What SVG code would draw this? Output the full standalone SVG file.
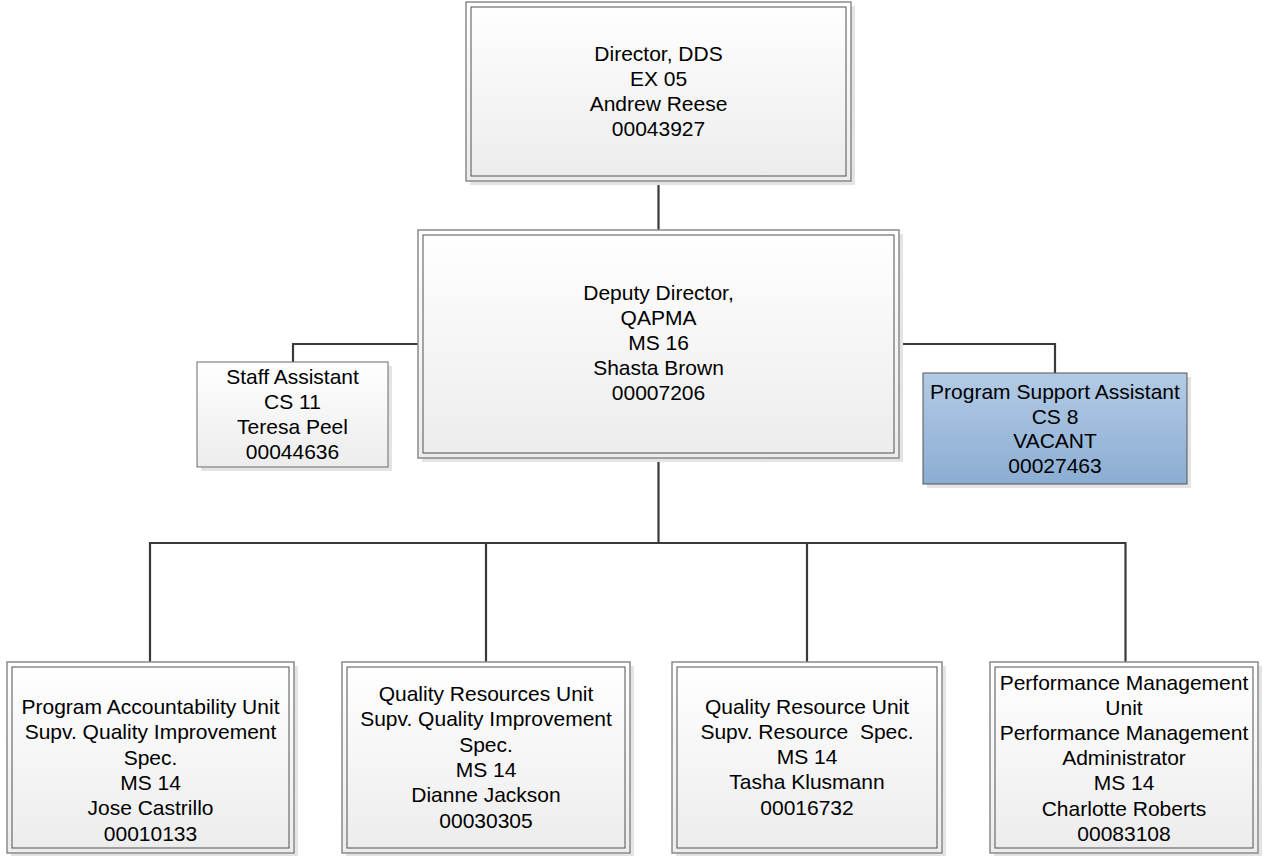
<svg xmlns="http://www.w3.org/2000/svg" width="1263" height="856" viewBox="0 0 1263 856">
<defs>
<linearGradient id="gw" x1="0" y1="0" x2="0" y2="1">
<stop offset="0" stop-color="#ffffff"/>
<stop offset="1" stop-color="#ececec"/>
</linearGradient>
<linearGradient id="gb" x1="0" y1="0" x2="0" y2="1">
<stop offset="0" stop-color="#b3cbe5"/>
<stop offset="1" stop-color="#8badd3"/>
</linearGradient>
</defs>
<style>
.sh{fill:#e4e4e4}
.o{fill:url(#gw);stroke:#8a8a8a;stroke-width:1.5}
.i{fill:none;stroke:#505050;stroke-width:1}
.s{fill:url(#gw);stroke:#6a6a6a;stroke-width:1}
.b{fill:url(#gb);stroke:#555;stroke-width:1}
text{font-family:"Liberation Sans",Arial,sans-serif;font-size:21px;fill:#000;text-anchor:middle}
.pre{white-space:pre}
.c{fill:none;stroke:#3a3a3a;stroke-width:2.2}
</style>
<rect width="1263" height="856" fill="#fff"/>
<g id="connectors">
<path class="c" d="M658.5 181V230"/>
<path class="c" d="M418 344H293V362"/>
<path class="c" d="M899 344H1055V373"/>
<path class="c" d="M658.5 458V543"/>
<path class="c" d="M150 543H1125.5"/>
<path class="c" d="M150 542V662M486 542V662M807 542V662M1125.5 542V662"/>
</g>
<g id="director">
<rect class="sh" x="470" y="6" width="385" height="179"/>
<rect class="o" x="466" y="2" width="385" height="179"/>
<rect class="i" x="471" y="7" width="375" height="169"/>
<text x="658.5" y="60.5">Director, DDS</text>
<text x="658.5" y="85.5">EX 05</text>
<text x="658.5" y="110.5">Andrew Reese</text>
<text x="658.5" y="135.5">00043927</text>
</g>
<g id="deputy">
<rect class="sh" x="422" y="234" width="481" height="228"/>
<rect class="o" x="418" y="230" width="481" height="228"/>
<rect class="i" x="423" y="235" width="471" height="218"/>
<text x="658.5" y="299.5">Deputy Director,</text>
<text x="658.5" y="324.7">QAPMA</text>
<text x="658.5" y="349.9">MS 16</text>
<text x="658.5" y="375.1">Shasta Brown</text>
<text x="658.5" y="400.3">00007206</text>
</g>
<g id="staff">
<rect class="sh" x="201" y="366" width="191" height="105"/>
<rect class="s" x="197" y="362" width="191" height="105"/>
<text x="292.5" y="384">Staff Assistant</text>
<text x="292.5" y="409">CS 11</text>
<text x="292.5" y="434">Teresa Peel</text>
<text x="292.5" y="459">00044636</text>
</g>
<g id="psa">
<rect class="sh" x="927" y="377" width="264" height="111"/>
<rect class="b" x="923" y="373" width="264" height="111"/>
<text x="1055" y="399">Program Support Assistant</text>
<text x="1055" y="423.5">CS 8</text>
<text x="1055" y="448">VACANT</text>
<text x="1055" y="472.5">00027463</text>
</g>
<g id="pau">
<rect class="sh" x="11" y="666" width="287" height="191"/>
<rect class="o" x="7" y="662" width="287" height="191"/>
<rect class="i" x="12" y="667" width="277" height="181"/>
<text x="150.5" y="714">Program Accountability Unit</text>
<text x="150.5" y="739.3">Supv. Quality Improvement</text>
<text x="150.5" y="764.6">Spec.</text>
<text x="150.5" y="789.9">MS 14</text>
<text x="150.5" y="815.2">Jose Castrillo</text>
<text x="150.5" y="840.5">00010133</text>
</g>
<g id="qrus">
<rect class="sh" x="346" y="666" width="288" height="191"/>
<rect class="o" x="342" y="662" width="288" height="191"/>
<rect class="i" x="347" y="667" width="278" height="181"/>
<text x="486" y="701">Quality Resources Unit</text>
<text x="486" y="726.3">Supv. Quality Improvement</text>
<text x="486" y="751.6">Spec.</text>
<text x="486" y="776.9">MS 14</text>
<text x="486" y="802.2">Dianne Jackson</text>
<text x="486" y="827.5">00030305</text>
</g>
<g id="qru">
<rect class="sh" x="676" y="666" width="270" height="191"/>
<rect class="o" x="672" y="662" width="270" height="191"/>
<rect class="i" x="677" y="667" width="260" height="181"/>
<text x="807" y="713.5">Quality Resource Unit</text>
<text class="pre" x="807" y="738.8" xml:space="preserve">Supv. Resource  Spec.</text>
<text x="807" y="764.1">MS 14</text>
<text x="807" y="789.4">Tasha Klusmann</text>
<text x="807" y="814.7">00016732</text>
</g>
<g id="pmu">
<rect class="sh" x="994" y="666" width="268" height="191"/>
<rect class="o" x="990" y="662" width="268" height="191"/>
<rect class="i" x="995" y="667" width="258" height="181"/>
<text x="1124" y="690">Performance Management</text>
<text x="1124" y="715.1">Unit</text>
<text x="1124" y="740.2">Performance Management</text>
<text x="1124" y="765.3">Administrator</text>
<text x="1124" y="790.4">MS 14</text>
<text x="1124" y="815.5">Charlotte Roberts</text>
<text x="1124" y="840.6">00083108</text>
</g>
</svg>
